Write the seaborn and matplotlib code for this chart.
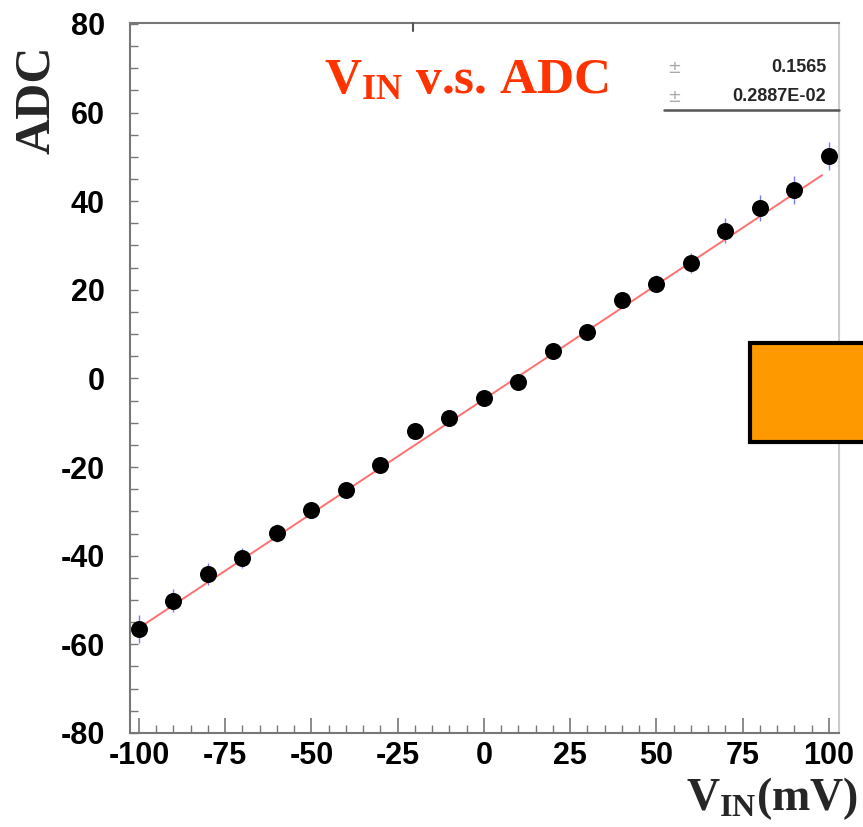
import numpy as np
import pandas as pd
import matplotlib
matplotlib.use('Agg')
import matplotlib.pyplot as plt
import seaborn as sns
from matplotlib.ticker import MultipleLocator
from matplotlib.patches import Rectangle

# Data
v_in = [-100, -90, -80, -70, -60, -50, -40, -30, -20, -10, 0,
        10, 20, 30, 40, 50, 60, 70, 80, 90, 100]
adc = [-56.5, -50.2, -44.1, -40.5, -34.9, -29.7, -25.2, -19.6, -11.9, -9.0, -4.5,
       -0.7, 6.1, 10.4, 17.8, 21.4, 26.1, 33.3, 38.5, 42.5, 50.2]
adc_err = [3.2, 2.6, 2.4, 2.2, 2.0, 1.8, 1.7, 1.6, 1.5, 1.5, 1.5,
           1.5, 1.5, 1.6, 1.8, 2.0, 2.2, 2.8, 2.9, 3.1, 3.2]

# Fit parameters (line drawn in the reference)
fit_slope = 0.516
fit_intercept = -4.7
fit_range = [-100, 98]
stat_values = ['0.1565', '0.2887E-02']

df = pd.DataFrame({'vin': v_in, 'adc': adc, 'err': adc_err})
fit_x = np.array(fit_range, dtype=float)
fit_df = pd.DataFrame({'vin': fit_x, 'adc': fit_slope * fit_x + fit_intercept})

sns.set_style('ticks')
plt.rcParams['axes.unicode_minus'] = False
plt.rcParams['mathtext.fontset'] = 'custom'
plt.rcParams['mathtext.bf'] = 'Liberation Serif:bold'
plt.rcParams['mathtext.rm'] = 'Liberation Serif:bold'
plt.rcParams['mathtext.it'] = 'Liberation Serif:bold'

fig = plt.figure(figsize=(8.63, 8.27), dpi=100)
ax = fig.add_axes([0.1506, 0.1137, 0.8216, 0.8585])

# error bars, fit line, points
ax.errorbar(df['vin'], df['adc'], yerr=df['err'], fmt='none',
            ecolor='#7777ff', elinewidth=1.0, zorder=2)
sns.lineplot(data=fit_df, x='vin', y='adc', ax=ax, color='#ff7070',
             linewidth=1.4, zorder=3)
sns.scatterplot(data=df, x='vin', y='adc', ax=ax, color='black', s=150,
                edgecolor='black', linewidth=0, zorder=4)

ax.set_xlim(-102.6, 102.9)
ax.set_ylim(-80, 80.2)
ax.set_xlabel('')
ax.set_ylabel('')
ax.xaxis.set_major_locator(MultipleLocator(25))
ax.xaxis.set_minor_locator(MultipleLocator(5))
ax.yaxis.set_major_locator(MultipleLocator(20))
ax.yaxis.set_minor_locator(MultipleLocator(5))
ax.tick_params(which='both', bottom=True, left=True, top=False, right=False,
               labelcolor='black', direction='in')
ax.tick_params(axis='x', which='major', length=11, width=1.2,
               color='#777777', pad=6)
ax.tick_params(axis='x', which='minor', length=6, width=1.0,
               color='#777777')
ax.tick_params(axis='y', which='both', length=6, width=1.0,
               color='#777777', pad=18)
for lab in ax.get_xticklabels() + ax.get_yticklabels():
    lab.set_fontfamily('Liberation Sans')
    lab.set_fontweight('bold')
    lab.set_fontsize(22)
    lab.set_color('black')

for side in ['left', 'bottom', 'top']:
    ax.spines[side].set_color('#777777')
    ax.spines[side].set_linewidth(1.5)
ax.spines['right'].set_color('#cccccc')
ax.spines['right'].set_linewidth(1.5)

# partial statistics box
ax.plot([0.753, 1.0], [0.878, 0.878], transform=ax.transAxes, color='#555555',
        linewidth=1.8, clip_on=False, zorder=5)
ax.plot([0.399, 0.399], [0.989, 1.0], transform=ax.transAxes, color='#555555',
        linewidth=1.5, clip_on=False, zorder=5)
for i, val in enumerate(stat_values):
    y = 0.937 - i * 0.041
    ax.text(0.758, y, '±', transform=ax.transAxes, fontsize=12,
            color='#aaaaaa', va='center', ha='left', fontfamily='DejaVu Sans')
    ax.text(0.982, y, val, transform=ax.transAxes, fontsize=13,
            fontweight='bold', fontfamily='Liberation Sans', va='center', ha='right')

# title and axis labels
fig.text(0.376, 0.888, r'$\mathbf{V_{IN}}$ v.s. ADC', color='#ff3300',
         fontsize=37, fontfamily='Liberation Serif', fontweight='bold',
         ha='left', va='baseline')
fig.text(0.016, 0.945, 'ADC', rotation=90, fontsize=36,
         fontfamily='Liberation Serif', fontweight='bold', ha='left', va='top')
fig.text(0.994, 0.021, r'$\mathbf{V_{IN}}$(mV)', fontsize=33,
         fontfamily='Liberation Serif', fontweight='bold', ha='right', va='baseline')

# orange box on the right edge
fig.patches.append(Rectangle((0.869, 0.466), 0.2, 0.119, transform=fig.transFigure,
                             facecolor='#ff9900', edgecolor='black', linewidth=3,
                             zorder=10))

fig.savefig('out.png', dpi=100)
